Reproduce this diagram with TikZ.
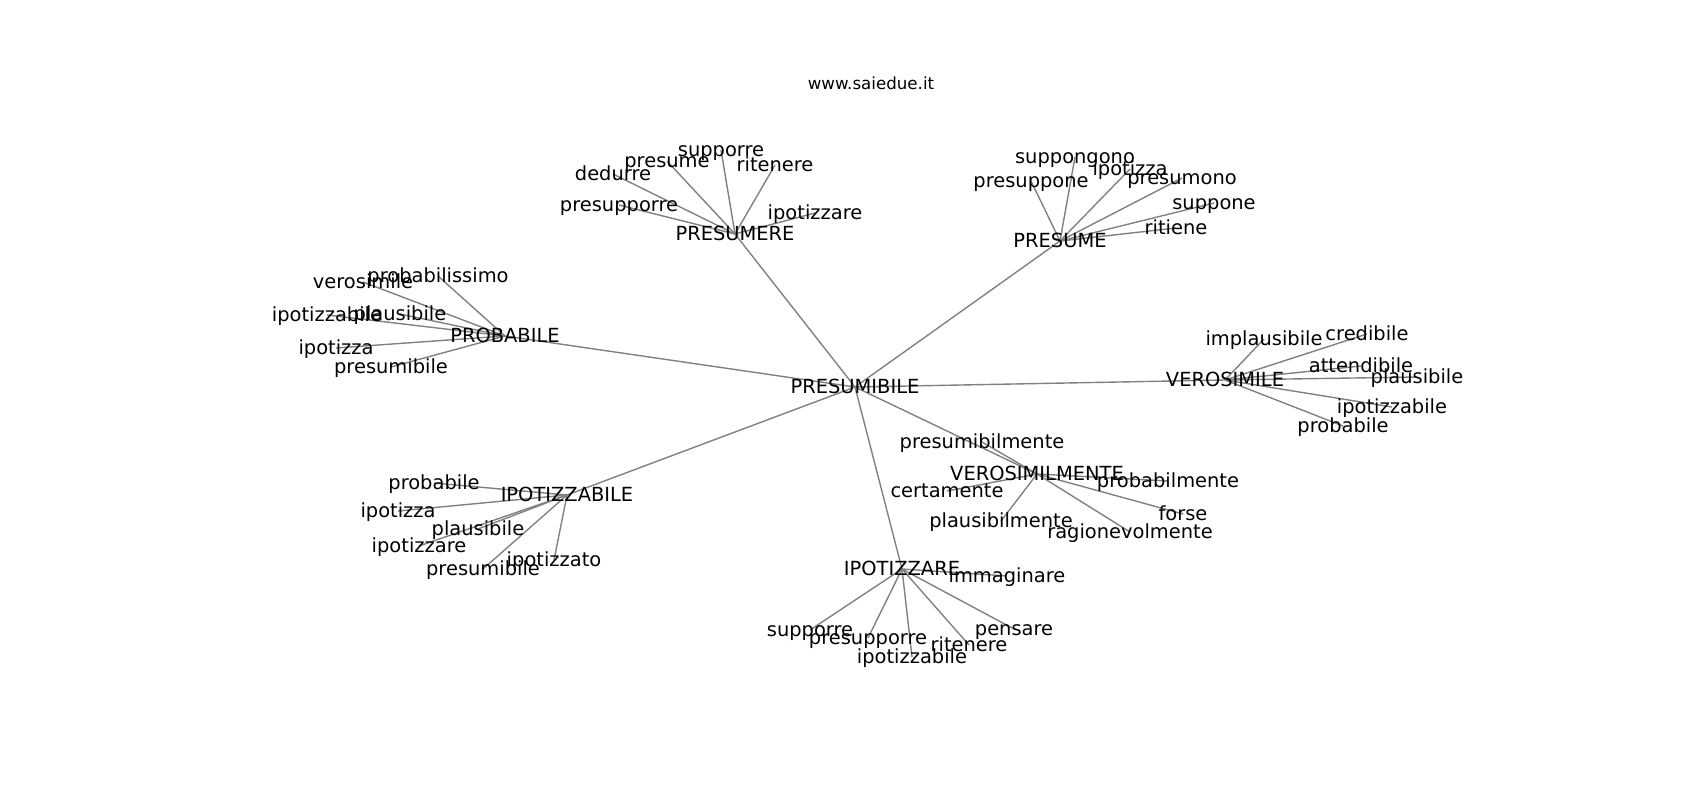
\documentclass[tikz,border=0pt]{standalone}
\usepackage{fontspec}
\setmainfont{DejaVu Sans}
\usetikzlibrary{backgrounds}

\begin{document}
\begin{tikzpicture}%
  [x=0.72pt, y=-0.72pt,
   word/.style={inner sep=0pt, text height=12.4pt, text depth=2.94pt,
                font=\fontsize{14}{16}\selectfont},
   title/.style={inner sep=0pt, text height=10.6pt, text depth=2.52pt,
                font=\fontsize{12}{14}\selectfont},
   link/.style={draw=gray, line width=1pt},
  ]
\useasboundingbox (0,0) rectangle (1700,800);
\node[title] (t) at (871,84) {www.saiedue.it};

\node[word] (0) at (855,387) {PRESUMIBILE};

\node[word] (1) at (735,234) {PRESUMERE};
\node[word] (11) at (721,150) {supporre};
\node[word] (12) at (667,161) {presume};
\node[word] (13) at (775,165) {ritenere};
\node[word] (14) at (613,174) {dedurre};
\node[word] (15) at (619,205) {presupporre};
\node[word] (16) at (815,213) {ipotizzare};

\node[word] (2) at (1060,241) {PRESUME};
\node[word] (21) at (1075,157) {suppongono};
\node[word] (22) at (1130,169) {ipotizza};
\node[word] (23) at (1031,181) {presuppone};
\node[word] (24) at (1182,178) {presumono};
\node[word] (25) at (1214,203) {suppone};
\node[word] (26) at (1176,228) {ritiene};

\node[word] (3) at (505,336) {PROBABILE};
\node[word] (31) at (438,276) {probabilissimo};
\node[word] (32) at (363,282) {verosimile};
\node[word] (33) at (400,314) {plausibile};
\node[word] (34) at (327,315) {ipotizzabile};
\node[word] (35) at (336,348) {ipotizza};
\node[word] (36) at (391,367) {presumibile};

\node[word] (4) at (1225,380) {VEROSIMILE};
\node[word] (41) at (1264,339) {implausibile};
\node[word] (42) at (1367,334) {credibile};
\node[word] (43) at (1361,366) {attendibile};
\node[word] (44) at (1417,377) {plausibile};
\node[word] (45) at (1392,407) {ipotizzabile};
\node[word] (46) at (1343,426) {probabile};

\node[word] (5) at (1037,474) {VEROSIMILMENTE};
\node[word] (51) at (982,442) {presumibilmente};
\node[word] (52) at (1168,481) {probabilmente};
\node[word] (53) at (947,491) {certamente};
\node[word] (54) at (1001,521) {plausibilmente};
\node[word] (55) at (1183,514) {forse};
\node[word] (56) at (1130,532) {ragionevolmente};

\node[word] (6) at (567,495) {IPOTIZZABILE};
\node[word] (61) at (434,483) {probabile};
\node[word] (62) at (398,511) {ipotizza};
\node[word] (63) at (478,529) {plausibile};
\node[word] (64) at (419,546) {ipotizzare};
\node[word] (65) at (483,569) {presumibile};
\node[word] (66) at (554,560) {ipotizzato};

\node[word] (7) at (902,569) {IPOTIZZARE};
\node[word] (71) at (1007,576) {immaginare};
\node[word] (72) at (810,630) {supporre};
\node[word] (73) at (868,638) {presupporre};
\node[word] (74) at (912,657) {ipotizzabile};
\node[word] (75) at (969,645) {ritenere};
\node[word] (76) at (1014,629) {pensare};

\begin{pgfonlayer}{background}
\path[link]
%   FROM        TO
   (0.center) edge (1.center) edge (2.center) edge (3.center)
              edge (4.center) edge (5.center) edge (6.center)
              edge (7.center)
   (1.center) edge (11.center) edge (12.center) edge (13.center)
              edge (14.center) edge (15.center) edge (16.center)
   (2.center) edge (21.center) edge (22.center) edge (23.center)
              edge (24.center) edge (25.center) edge (26.center)
   (3.center) edge (31.center) edge (32.center) edge (33.center)
              edge (34.center) edge (35.center) edge (36.center)
   (4.center) edge (41.center) edge (42.center) edge (43.center)
              edge (44.center) edge (45.center) edge (46.center)
   (5.center) edge (51.center) edge (52.center) edge (53.center)
              edge (54.center) edge (55.center) edge (56.center)
   (6.center) edge (61.center) edge (62.center) edge (63.center)
              edge (64.center) edge (65.center) edge (66.center)
   (7.center) edge (71.center) edge (72.center) edge (73.center)
              edge (74.center) edge (75.center) edge (76.center)
   ;
\end{pgfonlayer}
\end{tikzpicture}
\end{document}
